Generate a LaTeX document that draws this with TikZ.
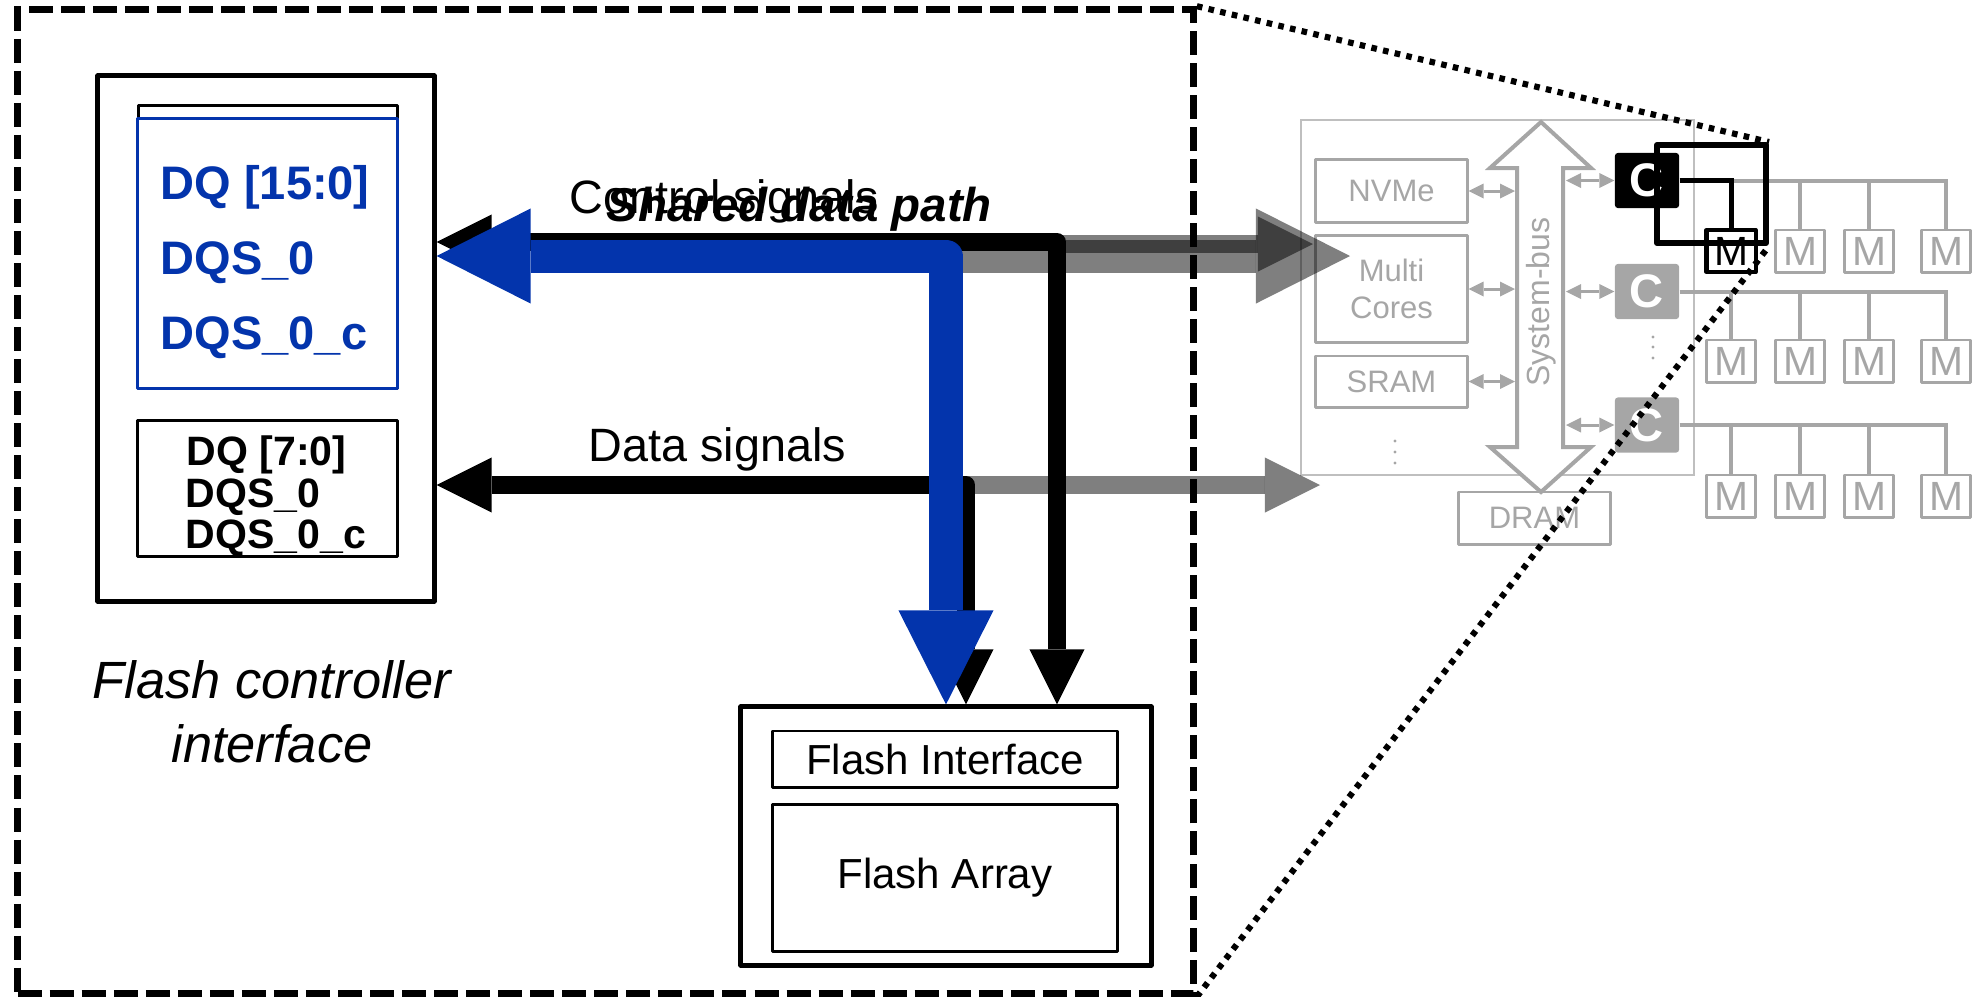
\documentclass[tikz,border=0pt]{standalone}
\usepackage{fontspec}
\setmainfont{Liberation Sans}
\usetikzlibrary{arrows.meta}
\definecolor{sigblue}{RGB}{3,52,172}
\definecolor{hostgrey}{RGB}{166,166,166}
\definecolor{hostedge}{RGB}{191,191,191}
\tikzset{
  ntip/.tip={Triangle[length=0.55cm,width=0.55cm,line width=0pt]},
  wtip/.tip={Triangle[length=0.94cm,width=0.95cm,line width=0pt]},
  stip/.tip={Triangle[length=0.15cm,width=0.15cm,line width=0pt]},
  heavybox/.style={draw, line width=1.42pt, line join=round},
  thinbox/.style={draw, line width=0.85pt, line join=round},
  pinlabel/.style={anchor=base west, text=sigblue, font=\bfseries\fontsize{13.37pt}{16pt}\selectfont},
  pinlabelsmall/.style={anchor=base west, font=\bfseries\fontsize{11.67pt}{14pt}\selectfont},
  siglabel/.style={anchor=base west, font=\fontsize{13.3pt}{16pt}\selectfont},
  flashlabel/.style={font=\fontsize{11.95pt}{14pt}\selectfont},
  hostbox/.style={draw=hostgrey, line width=0.85pt, line join=round, text=hostgrey,
    align=center, font=\fontsize{8.82pt}{10.5pt}\selectfont},
  membox/.style={hostbox, minimum width=0.49cm, minimum height=0.42cm,
    font=\fontsize{11.6pt}{12pt}\selectfont},
  chanctl/.style={fill=hostgrey, rounded corners=0.8pt, minimum width=0.64cm,
    minimum height=0.55cm, text=white, font=\bfseries\fontsize{13.4pt}{15pt}\selectfont},
  busline/.style={draw=hostgrey, line width=1.14pt},
  hostlink/.style={draw=hostgrey, line width=0.85pt, stip-stip},
  narrowsig/.style={line width=0.18cm, line join=round, ntip-ntip},
  widesig/.style={draw=sigblue, line width=0.33cm, line join=round, wtip-wtip},
  ghostnarrow/.style={line width=0.18cm, -ntip, opacity=0.5},
  ghostwide/.style={line width=0.33cm, -wtip, opacity=0.5},
  panelbox/.style={draw, line width=2pt, dash pattern=on 6.83pt off 2.28pt},
  zoomline/.style={line width=1.75pt, dash pattern=on 1.6pt off 1.8pt},
}
\begin{document}
\begin{tikzpicture}[x=0.01cm, y=-0.01cm, every node/.style={inner sep=0pt}]
\useasboundingbox (0,0) rectangle (1987,996);

% ---------- flash controller interface ----------
\node[heavybox, minimum width=3.36cm, minimum height=5.25cm] (ctrl) at (266,338.5) {};
\node[thinbox, minimum width=2.58cm, minimum height=2.82cm] (x16back) at (268,247) {};
\node[thinbox, draw=sigblue, fill=white, minimum width=2.59cm, minimum height=2.69cm] (x16) at (267.5,253.5) {};
\node[pinlabel] (dq16) at (160,199) {DQ [15:0]};
\node[pinlabel] (dqs16) at (160,274) {DQS\_0};
\node[pinlabel] (dqsc16) at (160,349) {DQS\_0\_c};
\node[thinbox, minimum width=2.59cm, minimum height=1.35cm] (x8) at (267.5,488.5) {};
\node[pinlabelsmall] (dq8) at (186,465) {DQ [7:0]};
\node[pinlabelsmall] (dqs8) at (185,507) {DQS\_0};
\node[pinlabelsmall] (dqsc8) at (185,548) {DQS\_0\_c};
\node[anchor=base, align=center, font=\itshape\fontsize{14.9pt}{18.2pt}\selectfont] (ctrlcap) at (272,762) {Flash controller\\interface};

% ---------- flash package ----------
\node[heavybox, minimum width=4.10cm, minimum height=2.58cm] (flash) at (946,836) {};
\node[thinbox, flashlabel, minimum width=3.44cm, minimum height=0.56cm] (flashif) at (945,759) {Flash Interface};
\node[thinbox, flashlabel, minimum width=3.44cm, minimum height=1.46cm] (flasharr) at (945,878) {Flash Array};

% ---------- SSD host system ----------
\node[draw=hostedge, line width=0.57pt, minimum width=3.93cm, minimum height=3.55cm] (host) at (1497.5,297.5) {};
\node[hostbox, minimum width=1.51cm, minimum height=0.62cm] (nvme) at (1391.5,191) {NVMe};
\node[hostbox, minimum width=1.51cm, minimum height=1.06cm] (cores) at (1391.5,289) {Multi\\Cores};
\node[hostbox, minimum width=1.51cm, minimum height=0.51cm] (sram) at (1391.5,381.5) {SRAM};
\node[hostbox, minimum width=1.51cm, minimum height=0.52cm] (dram) at (1534.5,518) {DRAM};
\fill[hostgrey] (1395,441) circle[radius=0.016cm] (1395,452) circle[radius=0.016cm] (1395,463) circle[radius=0.016cm];

% system bus (double-headed block arrow)
\draw[hostgrey, fill=white, line width=1.14pt]
  (1541,122) -- (1591,168) -- (1563,168) -- (1563,447) -- (1591,447) -- (1541,492)
  -- (1490,447) -- (1517,447) -- (1517,168) -- (1490,168) -- cycle;
\node[rotate=90, text=hostgrey, font=\fontsize{9.1pt}{11pt}\selectfont] (buslabel) at (1541,302) {System-bus};
\coordinate (busW) at (1515,0);
\coordinate (busE) at (1566,0);
\draw[hostlink] (nvme.east) -- (nvme.east -| busW);
\draw[hostlink] (cores.east) -- (cores.east -| busW);
\draw[hostlink] (sram.east) -- (sram.east -| busW);

% channel controllers and flash chips
\node[chanctl, fill=black] (c1) at (1647,180.5) {C};
\node[chanctl] (c2) at (1647,291.5) {C};
\node[chanctl] (c3) at (1647,425) {C};
\draw[hostlink] (c1.west -| busE) -- (c1.west);
\draw[hostlink] (c2.west -| busE) -- (c2.west);
\draw[hostlink] (c3.west -| busE) -- (c3.west);
\fill[hostgrey] (1653,337) circle[radius=0.016cm] (1653,347) circle[radius=0.016cm] (1653,358) circle[radius=0.016cm];

\node[membox, draw=black, text=black, line width=1.14pt] (m11) at (1731,251) {M};
\node[membox] (m12) at (1800,251) {M};
\node[membox] (m13) at (1869,251) {M};
\node[membox] (m14) at (1946,251) {M};
\node[membox] (m21) at (1731,361) {M};
\node[membox] (m22) at (1800,361) {M};
\node[membox] (m23) at (1869,361) {M};
\node[membox] (m24) at (1946,361) {M};
\node[membox] (m31) at (1731,496) {M};
\node[membox] (m32) at (1800,496) {M};
\node[membox] (m33) at (1869,496) {M};
\node[membox] (m34) at (1946,496) {M};

\draw[busline] (c1.east -| m11.north) -- (c1.east -| m14.north) -- (m14.north);
\draw[busline] (c1.east -| m12.north) -- (m12.north);
\draw[busline] (c1.east -| m13.north) -- (m13.north);
\draw[line width=1.42pt] (c1.east) -- (c1.east -| m11.north) -- (m11.north);
\draw[busline] (c2.east) -- (c2.east -| m24.north) -- (m24.north);
\draw[busline] (c2.east -| m21.north) -- (m21.north);
\draw[busline] (c2.east -| m22.north) -- (m22.north);
\draw[busline] (c2.east -| m23.north) -- (m23.north);
\draw[busline] (c3.east) -- (c3.east -| m34.north) -- (m34.north);
\draw[busline] (c3.east -| m31.north) -- (m31.north);
\draw[busline] (c3.east -| m32.north) -- (m32.north);
\draw[busline] (c3.east -| m33.north) -- (m33.north);

\node[draw, line width=1.7pt, line join=round, minimum width=1.09cm, minimum height=0.98cm] (focus) at (1711.5,194) {};

% ---------- signal paths ----------
\coordinate (ctlbend) at (1057,242);
\coordinate (sharedbend) at (946,256);
\coordinate (databend) at (966,485);
\coordinate (ctlhost) at (1313,244);
\coordinate (sharedhost) at (1350,256);
\coordinate (datahost) at (1320,485);

\draw[ghostwide] (sharedbend) -- (sharedhost);
\draw[ghostnarrow] (ctlbend |- ctlhost) -- (ctlhost);
\draw[ghostnarrow] (databend) -- (datahost);

\draw[narrowsig] (ctrl.east |- databend) -- (databend) -- (flash.north -| databend);
\draw[narrowsig] (ctrl.east |- ctlbend) -- (ctlbend) -- (flash.north -| ctlbend);
\draw[widesig] (ctrl.east |- sharedbend) -- (sharedbend) -- (flash.north -| sharedbend);

\node[siglabel] (ctllabel) at (569,213) {Control signals};
\node[siglabel, font=\bfseries\itshape\fontsize{13.5pt}{16pt}\selectfont] (sharedlabel) at (606,221) {Shared data path};
\node[siglabel] (datalabel) at (588,461) {Data signals};

% ---------- zoom outline ----------
\node[panelbox, minimum width=11.75cm, minimum height=9.83cm] (panel) at (605.5,501.5) {};
\draw[zoomline] (panel.north east) -- (focus.north east);
\draw[zoomline] (panel.south east) -- (focus.south east);
\end{tikzpicture}
\end{document}
